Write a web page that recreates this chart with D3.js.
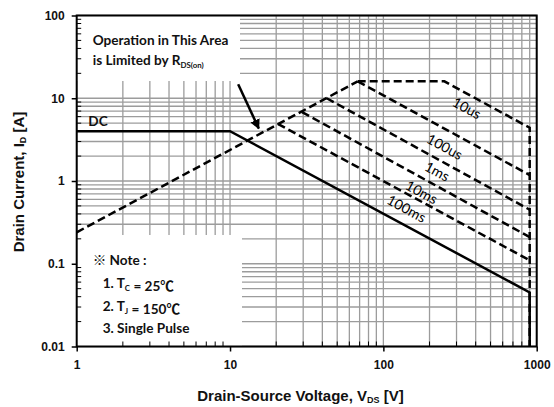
<!DOCTYPE html>
<html lang="en">
<head>
<meta charset="UTF-8">
<title>Safe Operating Area</title>
<style>
  body { margin: 0; background: #fff; }
  svg { display: block; }
</style>
</head>
<body>
<svg></svg>
<script src="https://d3js.org/d3.v7.min.js"></script>
<script>
// axis ticks
const xTicks = [1, 10, 100, 1000];
const yTicks = [0.01, 0.1, 1, 10, 100];
const yTickLabels = ["0.01", "0.1", "1", "10", "100"];

// curves (V in volts, I in amps)
const rdsV = [1, 68];
const rdsI = [0.24, 16];
const dcV = [1, 10, 900, 900];
const dcI = [4, 4, 0.045, 0.01];
const us10V = [68, 250, 900, 900];
const us10I = [16, 16, 4.4, 0.01];
const us100V = [68, 900];
const us100I = [16, 1.18];
const ms1V = [42.7, 900];
const ms1I = [10, 0.45];
const ms10V = [29.5, 900];
const ms10I = [6.8, 0.21];
const ms100V = [20.5, 900];
const ms100I = [4.9, 0.11];
const pulseNames = ["10us", "100us", "1ms", "10ms", "100ms"];

const width = 554;
const height = 407;
const margin = {top: 15.5, right: 17.3, bottom: 60.5, left: 76.7};

const svg = d3.select("svg").attr("width", width).attr("height", height);

const x = d3.scaleLog().domain([1, 1000]).range([margin.left, width - margin.right]);
const y = d3.scaleLog().domain([0.01, 100]).range([height - margin.bottom, margin.top]);

const zip = (vs, is) => vs.map((v, i) => [v, is[i]]);
const line = d3.line().x(d => x(d[0])).y(d => y(d[1]));

// grid
const grid = svg.append("g").attr("stroke", "#9c9c9c").attr("stroke-width", 1.3);
grid.selectAll(".vx").data(x.ticks()).join("line")
    .attr("x1", d => x(d)).attr("x2", d => x(d))
    .attr("y1", margin.top).attr("y2", height - margin.bottom);
grid.selectAll(".hy").data(y.ticks()).join("line")
    .attr("y1", d => y(d)).attr("y2", d => y(d))
    .attr("x1", margin.left).attr("x2", width - margin.right);

// white boxes behind the annotations
svg.append("rect").attr("x", margin.left).attr("y", margin.top)
    .attr("width", 240 - margin.left).attr("height", 81 - margin.top).attr("fill", "#fff");
svg.append("rect").attr("x", margin.left).attr("y", 235)
    .attr("width", 242 - margin.left).attr("height", height - margin.bottom - 235).attr("fill", "#fff");

// minor ticks pointing inward
const minorX = x.ticks().filter(d => !xTicks.includes(d));
const minorY = y.ticks().filter(d => !yTicks.includes(d));
svg.append("g").attr("stroke", "#000").attr("stroke-width", 1)
    .selectAll("line").data(minorY).join("line")
    .attr("x1", margin.left).attr("x2", margin.left + 4.5)
    .attr("y1", d => y(d)).attr("y2", d => y(d));
svg.append("g").attr("stroke", "#000").attr("stroke-width", 1)
    .selectAll("line").data(minorX).join("line")
    .attr("y1", height - margin.bottom).attr("y2", height - margin.bottom - 5)
    .attr("x1", d => x(d)).attr("x2", d => x(d));

// axes
const tickFont = g => g.selectAll("text")
    .attr("font-family", "'Liberation Sans', Arial, sans-serif")
    .attr("font-weight", "bold").attr("font-size", 12).attr("fill", "#111");

svg.append("g")
    .attr("transform", `translate(0,${height - margin.bottom})`)
    .call(d3.axisBottom(x).tickValues(xTicks).tickFormat(d3.format("d")).tickSize(5).tickPadding(9))
    .call(g => g.select(".domain").remove())
    .call(g => g.selectAll("line").attr("stroke-width", 1.5))
    .call(tickFont);

svg.append("g")
    .attr("transform", `translate(${margin.left},0)`)
    .call(d3.axisLeft(y).tickValues(yTicks).tickFormat((d, i) => yTickLabels[i]).tickSize(5).tickPadding(7))
    .call(g => g.select(".domain").remove())
    .call(g => g.selectAll("line").attr("stroke-width", 1.5))
    .call(tickFont);

// curves
const curves = svg.append("g").attr("fill", "none").attr("stroke", "#000").attr("stroke-width", 2.5);
const dash = "8,4";
curves.append("path").attr("d", line(zip(rdsV, rdsI))).attr("stroke-dasharray", dash);
const pulses = [zip(us10V, us10I), zip(us100V, us100I), zip(ms1V, ms1I), zip(ms10V, ms10I), zip(ms100V, ms100I)];
pulses.forEach(p => curves.append("path").attr("d", line(p)).attr("stroke-dasharray", dash));
curves.append("path").attr("d", line(zip(dcV, dcI)));

// pulse labels, placed under the sloped part of each line
const labelAt = [351, 252, 225, 178, 142];
const labelOff = [14, 17.5, 12, 14, 14.5];
pulses.forEach((p, i) => {
  const a = p.length > 2 ? p[1] : p[0];
  const b = p.length > 2 ? p[2] : p[1];
  const t = Math.log(labelAt[i] / a[0]) / Math.log(b[0] / a[0]);
  const iv = Math.exp(Math.log(a[1]) + t * (Math.log(b[1]) - Math.log(a[1])));
  const px = x(labelAt[i]);
  const py = y(iv) + labelOff[i];
  const ang = Math.atan2(y(b[1]) - y(a[1]), x(b[0]) - x(a[0])) * 180 / Math.PI;
  svg.append("text")
      .attr("transform", `translate(${px},${py}) rotate(${ang})`)
      .attr("text-anchor", "middle").attr("dominant-baseline", "central")
      .attr("font-family", "Lato, 'Open Sans', sans-serif").attr("font-size", 14)
      .attr("fill", "#000")
      .text(pulseNames[i]);
});

// frame
svg.append("rect")
    .attr("x", margin.left).attr("y", margin.top)
    .attr("width", width - margin.left - margin.right)
    .attr("height", height - margin.top - margin.bottom)
    .attr("fill", "none").attr("stroke", "#000").attr("stroke-width", 2);

// arrow
svg.append("defs").append("marker")
    .attr("id", "arr").attr("viewBox", "0 0 10 10").attr("refX", 9).attr("refY", 5)
    .attr("markerWidth", 4).attr("markerHeight", 4).attr("orient", "auto")
    .append("path").attr("d", "M0,0L10,5L0,10z").attr("fill", "#000");
svg.append("line")
    .attr("x1", x(11.3)).attr("y1", y(14.8))
    .attr("x2", x(15.4)).attr("y2", y(4.3))
    .attr("stroke", "#000").attr("stroke-width", 2.5).attr("marker-end", "url(#arr)");

// annotation text
const noteFont = "Lato, 'Noto Sans CJK SC', sans-serif";
function label(xp, yp, parts, size) {
  const t = svg.append("text").attr("x", xp).attr("y", yp)
      .attr("font-family", noteFont).attr("font-weight", "bold")
      .attr("font-size", size).attr("fill", "#111");
  parts.forEach(p => {
    if (typeof p === "string") t.append("tspan").text(p);
    else t.append("tspan").attr("font-size", size * 0.58).attr("dy", 3).text(p.sub)
        .clone(true).attr("font-size", size).attr("dy", -3).text("");
  });
  return t;
}
label(92.7, 45, ["Operation in This Area"], 13.6);
label(92.7, 65, ["is Limited by R", {sub: "DS(on)"}], 13.6);
label(88.3, 126, ["DC"], 13.6);
label(92.7, 264.5, ["※ Note :"], 13.6);
label(102.7, 288, ["1. T", {sub: "C"}, " = 25℃"], 13.6);
label(102.7, 311, ["2. T", {sub: "J"}, " = 150℃"], 13.6);
label(102.7, 333, ["3. Single Pulse"], 13.6);

// axis titles
const titleFont = "'Liberation Sans', Arial, sans-serif";
const xt = svg.append("text").attr("x", 300.5).attr("y", 401).attr("text-anchor", "middle")
    .attr("font-family", titleFont).attr("font-weight", "bold").attr("font-size", 15).attr("fill", "#111");
xt.append("tspan").text("Drain-Source Voltage, V");
xt.append("tspan").attr("font-size", 9).attr("dy", 2).text("DS");
xt.append("tspan").attr("dy", -2).text(" [V]");

const yt = svg.append("text").attr("transform", "translate(24,182) rotate(-90)").attr("text-anchor", "middle")
    .attr("font-family", titleFont).attr("font-weight", "bold").attr("font-size", 15).attr("fill", "#111");
yt.append("tspan").text("Drain Current, I");
yt.append("tspan").attr("font-size", 9).attr("dy", 2).text("D");
yt.append("tspan").attr("dy", -2).text(" [A]");
</script>
</body>
</html>
